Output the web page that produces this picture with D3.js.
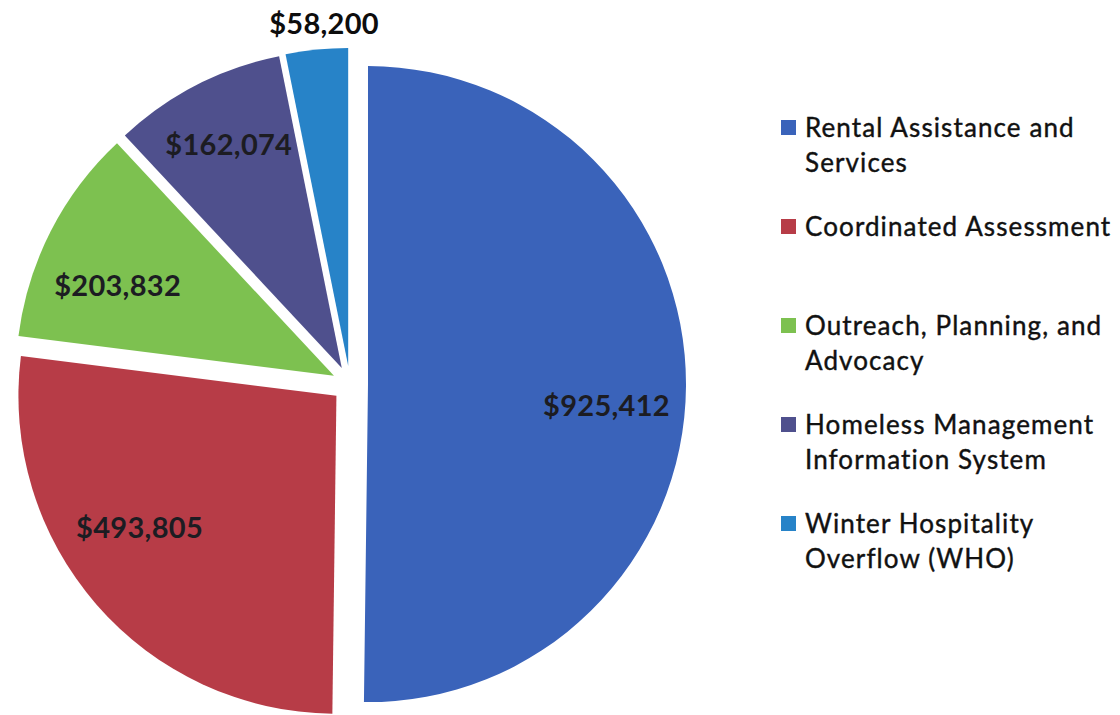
<!DOCTYPE html>
<html>
<head>
<meta charset="utf-8">
<script src="https://cdn.jsdelivr.net/npm/d3@7"></script>
<style>
  html, body { margin: 0; padding: 0; background: #ffffff; }
  svg { display: block; }
</style>
</head>
<body>
<svg id="chart" width="1120" height="715"></svg>
<script>
// Budget allocation by program area
const categories = [
  "Rental Assistance and Services",
  "Coordinated Assessment",
  "Outreach, Planning, and Advocacy",
  "Homeless Management Information System",
  "Winter Hospitality Overflow (WHO)"
];
const amounts = [925412, 493805, 203832, 162074, 58200];
const legendLines = [
  ["Rental Assistance and", "Services"],
  ["Coordinated Assessment"],
  ["Outreach, Planning, and", "Advocacy"],
  ["Homeless Management", "Information System"],
  ["Winter Hospitality", "Overflow (WHO)"]
];
const colors = ["#3A63BA", "#B73C47", "#7DC150", "#4F508D", "#2783C8"];

// hand-tuned nudges for the value labels, relative to their slice centroid
const labelNudge = [[0, 19], [-17, -26], [-4, 17], [-4, -12], [10, 0]];

const svg = d3.select("#chart");
const cx = 350, cy = 384;
const radius = 318;
const explode = 18;

const fmt = v => "$" + d3.format(",")(v);

const data = categories.map((c, i) => ({
  name: c, value: amounts[i], color: colors[i], lines: legendLines[i], nudge: labelNudge[i]
}));

const pie = d3.pie()
  .value(d => d.value)
  .sort(null)
  .startAngle(0)
  .endAngle(2 * Math.PI);

const arcs = pie(data);

const arc = d3.arc().innerRadius(0).outerRadius(radius);
const insideLabelArc = d3.arc().innerRadius(radius * 0.75).outerRadius(radius * 0.75);
const outsideLabelArc = d3.arc().innerRadius(radius * 1.085).outerRadius(radius * 1.085);

// unit vector pointing out through the middle of a slice
const midDir = d => {
  const a = (d.startAngle + d.endAngle) / 2;
  return [Math.sin(a), -Math.cos(a)];
};

const g = svg.append("g").attr("transform", `translate(${cx},${cy})`);

const slice = g.selectAll("g.slice")
  .data(arcs)
  .join("g")
  .attr("class", "slice")
  .attr("transform", d => {
    const [ux, uy] = midDir(d);
    return `translate(${ux * explode},${uy * explode})`;
  });

slice.append("path")
  .attr("d", arc)
  .attr("fill", d => d.data.color);

// value labels: large slices inside, the smallest one just outside the rim
slice.append("text")
  .attr("transform", d => {
    const small = (d.endAngle - d.startAngle) < 0.3;
    const p = (small ? outsideLabelArc : insideLabelArc).centroid(d);
    return `translate(${p[0] + d.data.nudge[0]},${p[1] + d.data.nudge[1]})`;
  })
  .attr("text-anchor", "middle")
  .attr("dominant-baseline", "central")
  .attr("font-family", "Lato, 'Open Sans', sans-serif")
  .attr("font-weight", 700)
  .attr("font-size", 29)
  .attr("letter-spacing", 0.3)
  .attr("fill", d => (d.endAngle - d.startAngle) < 0.3 ? "#0d0d0d" : "#1c1c22")
  .text(d => fmt(d.data.value));

// legend
const legend = svg.append("g").attr("transform", "translate(781,0)");
const legendY = d3.scalePoint()
  .domain(categories)
  .range([137, 533]);

const item = legend.selectAll("g.item")
  .data(data)
  .join("g")
  .attr("class", "item")
  .attr("transform", d => `translate(0,${legendY(d.name)})`);

item.append("rect")
  .attr("x", 0)
  .attr("y", -17)
  .attr("width", 15)
  .attr("height", 15)
  .attr("fill", d => d.color);

item.append("text")
  .attr("x", 24)
  .attr("font-family", "Lato, 'Open Sans', sans-serif")
  .attr("font-size", 26)
  .attr("letter-spacing", 1.1)
  .attr("fill", "#111")
  .attr("stroke", "#111")
  .attr("stroke-width", 0.4)
  .selectAll("tspan")
  .data(d => d.lines)
  .join("tspan")
  .attr("x", 24)
  .attr("y", (l, i) => i * 35)
  .text(l => l);
</script>
</body>
</html>
